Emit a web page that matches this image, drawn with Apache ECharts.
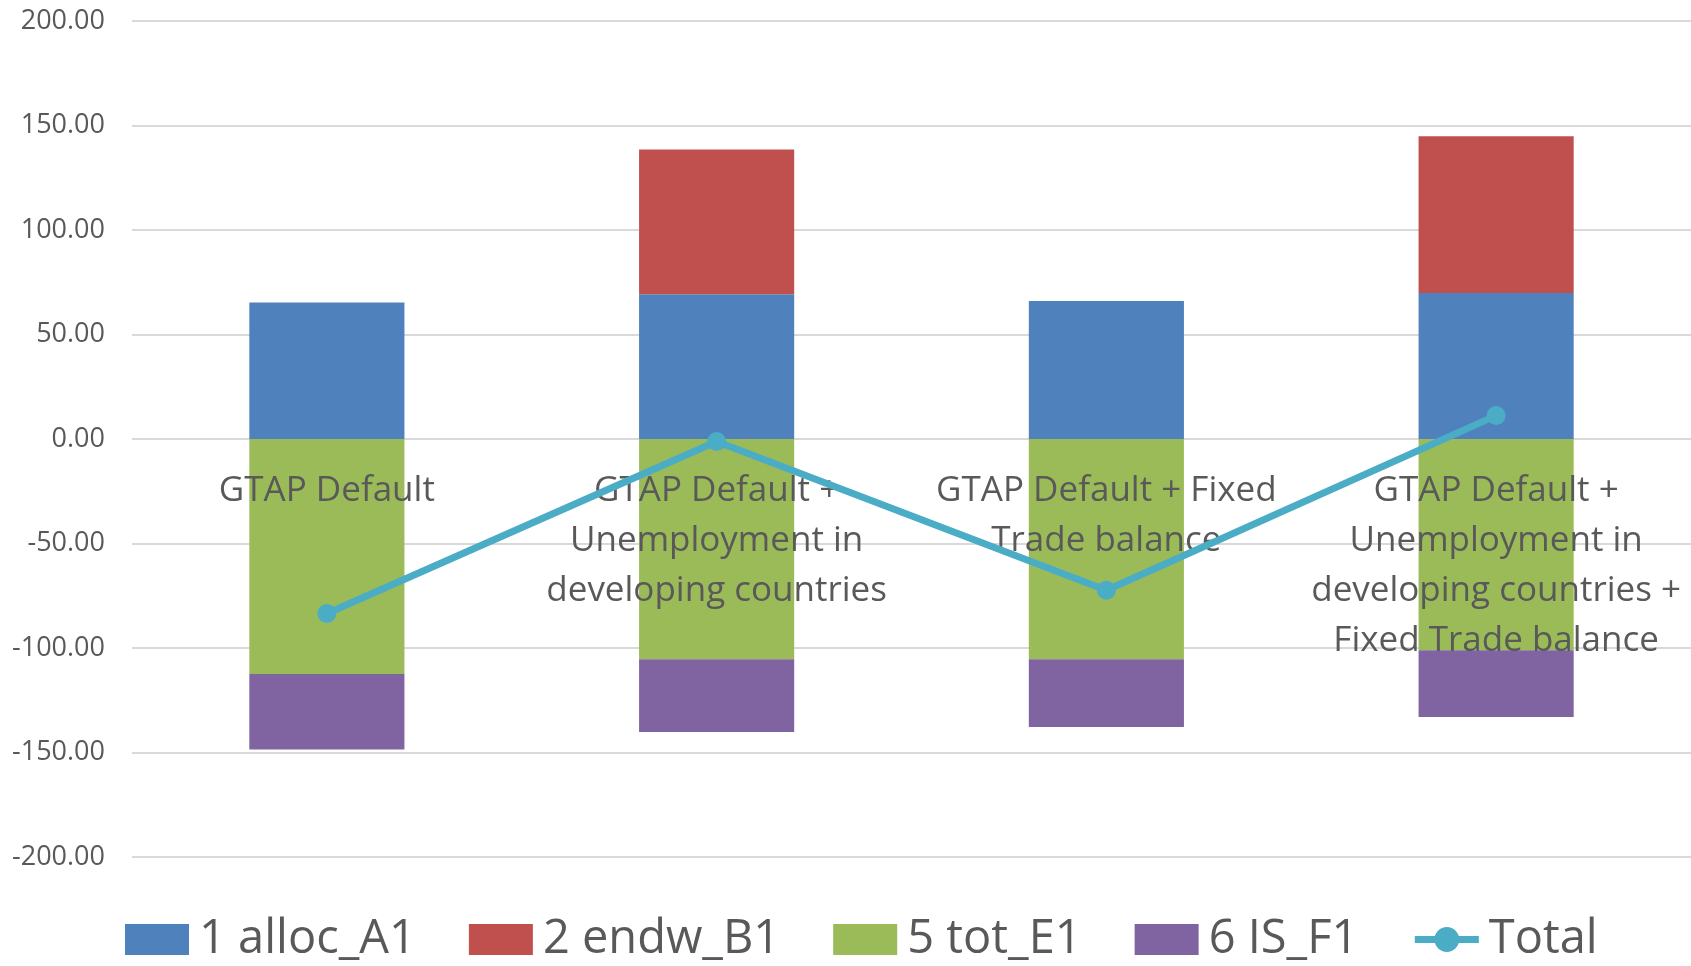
<!DOCTYPE html>
<html>
<head>
<meta charset="utf-8">
<script src="https://cdn.jsdelivr.net/npm/echarts@6/dist/echarts.min.js"></script>
<style>
html,body{margin:0;padding:0;background:#fff;}
#chart{width:1691px;height:966px;}
</style>
</head>
<body>
<div id="chart"></div>
<script>
const categories = [
  "GTAP Default",
  "GTAP Default +\nUnemployment in\ndeveloping countries",
  "GTAP Default + Fixed\nTrade balance",
  "GTAP Default +\nUnemployment in\ndeveloping countries +\nFixed Trade balance"
];
const allocA1 = [65.3, 69.2, 66.0, 69.9];
const endwB1 = [0, 69.3, 0, 74.9];
const totE1 = [-112.4, -105.4, -105.4, -101.1];
const isF1 = [-36.2, -34.8, -32.4, -31.9];
const total = [-83.5, -1.2, -72.4, 11.2];
const seriesNames = ["1 alloc_A1", "2 endw_B1", "5 tot_E1", "6 IS_F1", "Total"];
const yTicks = { min: -200, max: 200, interval: 50 };

const FONT = "'Open Sans', 'Noto Sans', sans-serif";
const TXT = "#595959";
const H = 966, GRID_TOP = 21, GRID_BOTTOM = 109;
const plotH = H - GRID_TOP - GRID_BOTTOM;
// category axis sits at value 0 (as in the original), expressed as offset from the bottom
const zeroOffset = -plotH * (0 - yTicks.min) / (yTicks.max - yTicks.min);

const chart = echarts.init(document.getElementById('chart'), null, { renderer: 'canvas' });

function barSeries(name, data, color) {
  return {
    name: name, type: 'bar', stack: 'all', data: data,
    barWidth: '39.8%',
    itemStyle: { color: color },
    z: 2
  };
}

chart.setOption({
  animation: false,
  textStyle: { fontFamily: FONT },
  grid: { left: 132, right: 0, top: GRID_TOP, bottom: GRID_BOTTOM, containLabel: false, outerBoundsMode: 'none' },
  legend: {
    left: 125, top: 916, padding: 0,
    itemWidth: 64, itemHeight: 31, itemGap: 53,
    textStyle: { fontSize: 47, color: TXT, fontFamily: FONT, padding: [0, 0, 0, 5] },
    data: [
      { name: seriesNames[0], icon: 'rect' },
      { name: seriesNames[1], icon: 'rect' },
      { name: seriesNames[2], icon: 'rect' },
      { name: seriesNames[3], icon: 'rect' },
      { name: seriesNames[4], lineStyle: { width: 7 } }
    ]
  },
  xAxis: {
    type: 'category', data: categories,
    z: 3,
    offset: zeroOffset,
    axisLine: { show: false, onZero: false },
    axisTick: { show: false },
    axisLabel: {
      interval: 0, margin: 27, fontSize: 35, lineHeight: 50,
      color: TXT, fontFamily: FONT, align: 'center', verticalAlign: 'top'
    },
    splitLine: { show: false }
  },
  yAxis: {
    type: 'value', min: yTicks.min, max: yTicks.max, interval: yTicks.interval,
    axisLine: { show: false }, axisTick: { show: false },
    axisLabel: {
      margin: 27, fontSize: 27, color: TXT, fontFamily: FONT,
      formatter: v => v.toFixed(2)
    },
    splitLine: { lineStyle: { color: '#D9D9D9', width: 2 } }
  },
  series: [
    barSeries(seriesNames[0], allocA1, '#4F81BD'),
    barSeries(seriesNames[1], endwB1, '#C0504D'),
    barSeries(seriesNames[2], totE1, '#9BBB59'),
    barSeries(seriesNames[3], isF1, '#8064A2'),
    {
      name: seriesNames[4], type: 'line', data: total,
      symbol: 'circle', symbolSize: 19,
      lineStyle: { color: '#4BACC6', width: 7 },
      itemStyle: { color: '#4BACC6' },
      z: 5
    }
  ]
});
</script>
</body>
</html>
